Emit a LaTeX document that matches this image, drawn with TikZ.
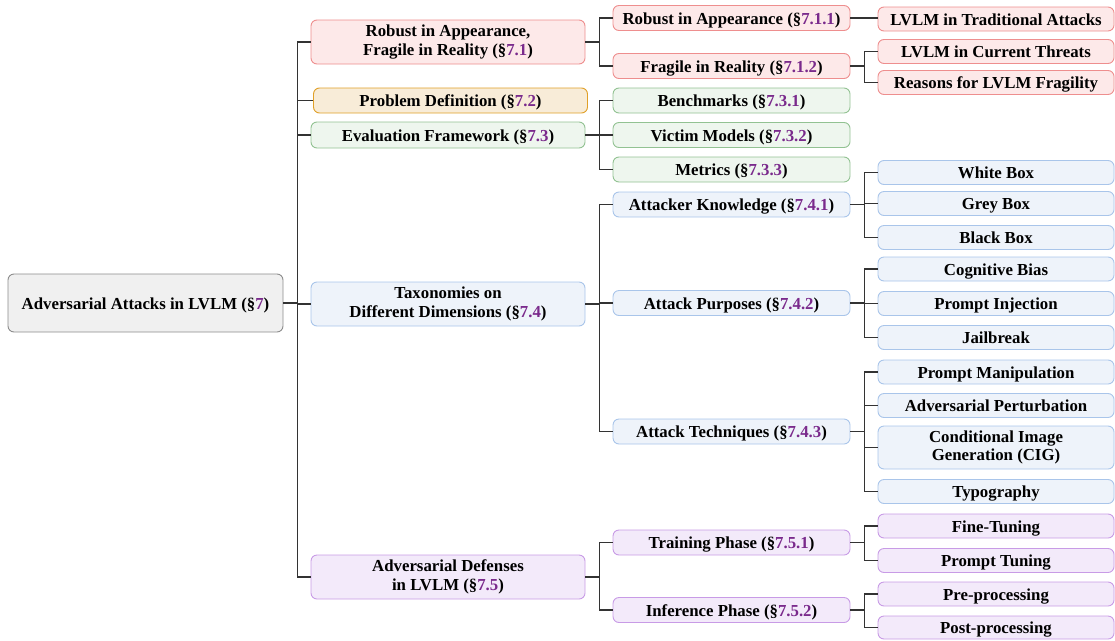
\documentclass[tikz,border=0pt]{standalone}
\usepackage{fontspec}
\setmainfont{Liberation Serif}
\definecolor{secpurple}{HTML}{7A2A8C}
\definecolor{lnk}{HTML}{333333}
\definecolor{rootF}{HTML}{F0F0F0}\definecolor{rootD}{HTML}{8C8C8C}
\definecolor{redF}{HTML}{FDE9E9}\definecolor{redD}{HTML}{EE8E8E}
\definecolor{oraF}{HTML}{F8ECD8}\definecolor{oraD}{HTML}{E0A028}
\definecolor{grnF}{HTML}{EEF6EE}\definecolor{grnD}{HTML}{92C292}
\definecolor{bluF}{HTML}{EEF3FA}\definecolor{bluD}{HTML}{A9C5EA}
\definecolor{purF}{HTML}{F3EAFA}\definecolor{purD}{HTML}{C89BE6}
\newcommand{\secref}[1]{(\S\textcolor{secpurple}{#1})}
\begin{document}
\begin{tikzpicture}[x=1pt,y=-1pt,
  box/.style={draw, rounded corners=6pt, line width=0.9pt, inner sep=1pt, align=center,
    font=\fontsize{16.8}{18.3}\selectfont\bfseries, anchor=center,
    execute at begin node={\rule[-3.5pt]{0pt}{19.5pt}},
    execute at end node={\rule[-3.5pt]{0pt}{3.5pt}}},
  rootbox/.style={box, fill=rootF, draw=rootD, minimum width=275pt, minimum height=58pt},
  lone/.style={box, minimum width=274pt},
  ltwo/.style={box, minimum width=237pt, minimum height=25pt},
  lthree/.style={box, minimum width=236pt, minimum height=24pt},
  red/.style={fill=redF, draw=redD},
  ora/.style={fill=oraF, draw=oraD},
  grn/.style={fill=grnF, draw=grnD},
  blu/.style={fill=bluF, draw=bluD},
  pur/.style={fill=purF, draw=purD},
  link/.style={draw=lnk, line width=1.1pt}]
\useasboundingbox (0,0) rectangle (1115,640);

% root
\node[rootbox] (root) at (145.5,303) {Adversarial Attacks in LVLM \secref{7}};

% level 1
\node[lone, red, minimum height=44pt] (r) at (448,42) {Robust in Appearance,\\Fragile in Reality \secref{7.1}};
\node[lone, ora, minimum height=25pt] (p) at (450.5,100.5) {Problem Definition \secref{7.2}};
\node[lone, grn, minimum height=26pt] (e) at (448,135) {Evaluation Framework \secref{7.3}};
\node[lone, blu, minimum height=44pt] (t) at (448,304) {Taxonomies on\\Different Dimensions \secref{7.4}};
\node[lone, pur, minimum height=44pt] (d) at (448,577) {Adversarial Defenses\\in LVLM \secref{7.5}};

% level 2
\node[ltwo, red] (r1) at (731.5,18) {Robust in Appearance \secref{7.1.1}};
\node[ltwo, red] (r2) at (731.5,66) {Fragile in Reality \secref{7.1.2}};
\node[ltwo, grn] (e1) at (731.5,100.5) {Benchmarks \secref{7.3.1}};
\node[ltwo, grn] (e2) at (731.5,135) {Victim Models \secref{7.3.2}};
\node[ltwo, grn] (e3) at (731.5,169.5) {Metrics \secref{7.3.3}};
\node[ltwo, blu] (t1) at (731.5,204.5) {Attacker Knowledge \secref{7.4.1}};
\node[ltwo, blu] (t2) at (731.5,303) {Attack Purposes \secref{7.4.2}};
\node[ltwo, blu] (t3) at (731.5,431.5) {Attack Techniques \secref{7.4.3}};
\node[ltwo, pur] (d1) at (731.5,542.5) {Training Phase \secref{7.5.1}};
\node[ltwo, pur] (d2) at (731.5,610) {Inference Phase \secref{7.5.2}};

% level 3
\node[lthree, red] (r1a) at (996,19) {LVLM in Traditional Attacks};
\node[lthree, red] (r2a) at (996,51.5) {LVLM in Current Threats};
\node[lthree, red] (r2b) at (996,82.5) {Reasons for LVLM Fragility};
\node[lthree, blu] (t1a) at (996,172.5) {White Box};
\node[lthree, blu] (t1b) at (996,203.5) {Grey Box};
\node[lthree, blu] (t1c) at (996,237.5) {Black Box};
\node[lthree, blu] (t2a) at (996,269) {Cognitive Bias};
\node[lthree, blu] (t2b) at (996,303.5) {Prompt Injection};
\node[lthree, blu] (t2c) at (996,337.5) {Jailbreak};
\node[lthree, blu] (t3a) at (996,372) {Prompt Manipulation};
\node[lthree, blu] (t3b) at (996,405.5) {Adversarial Perturbation};
\node[lthree, blu, minimum height=43pt] (t3c) at (996,447.5) {Conditional Image\\Generation (CIG)};
\node[lthree, blu] (t3d) at (996,491.5) {Typography};
\node[lthree, pur] (d1a) at (996,526) {Fine-Tuning};
\node[lthree, pur] (d1b) at (996,560.5) {Prompt Tuning};
\node[lthree, pur] (d2a) at (996,594) {Pre-processing};
\node[lthree, pur, minimum height=23pt] (d2b) at (996,627.5) {Post-processing};

% connectors
\foreach \c in {r,p,e,t,d} \draw[link] (root.east) -- ++(14,0) |- (\c.west);
\foreach \c in {r1,r2} \draw[link] (r.east) -- ++(14,0) |- (\c.west);
\foreach \c in {e1,e2,e3} \draw[link] (e.east) -- ++(14,0) |- (\c.west);
\foreach \c in {t1,t2,t3} \draw[link] (t.east) -- ++(14,0) |- (\c.west);
\foreach \c in {d1,d2} \draw[link] (d.east) -- ++(14,0) |- (\c.west);
\draw[link] (r1.east) -- (r1.east -| r1a.west);
\foreach \c in {r2a,r2b} \draw[link] (r2.east) -- ++(14,0) |- (\c.west);
\foreach \c in {t1a,t1b,t1c} \draw[link] (t1.east) -- ++(14,0) |- (\c.west);
\foreach \c in {t2a,t2b,t2c} \draw[link] (t2.east) -- ++(14,0) |- (\c.west);
\foreach \c in {t3a,t3b,t3c,t3d} \draw[link] (t3.east) -- ++(14,0) |- (\c.west);
\foreach \c in {d1a,d1b} \draw[link] (d1.east) -- ++(14,0) |- (\c.west);
\foreach \c in {d2a,d2b} \draw[link] (d2.east) -- ++(14,0) |- (\c.west);
\end{tikzpicture}
\end{document}
